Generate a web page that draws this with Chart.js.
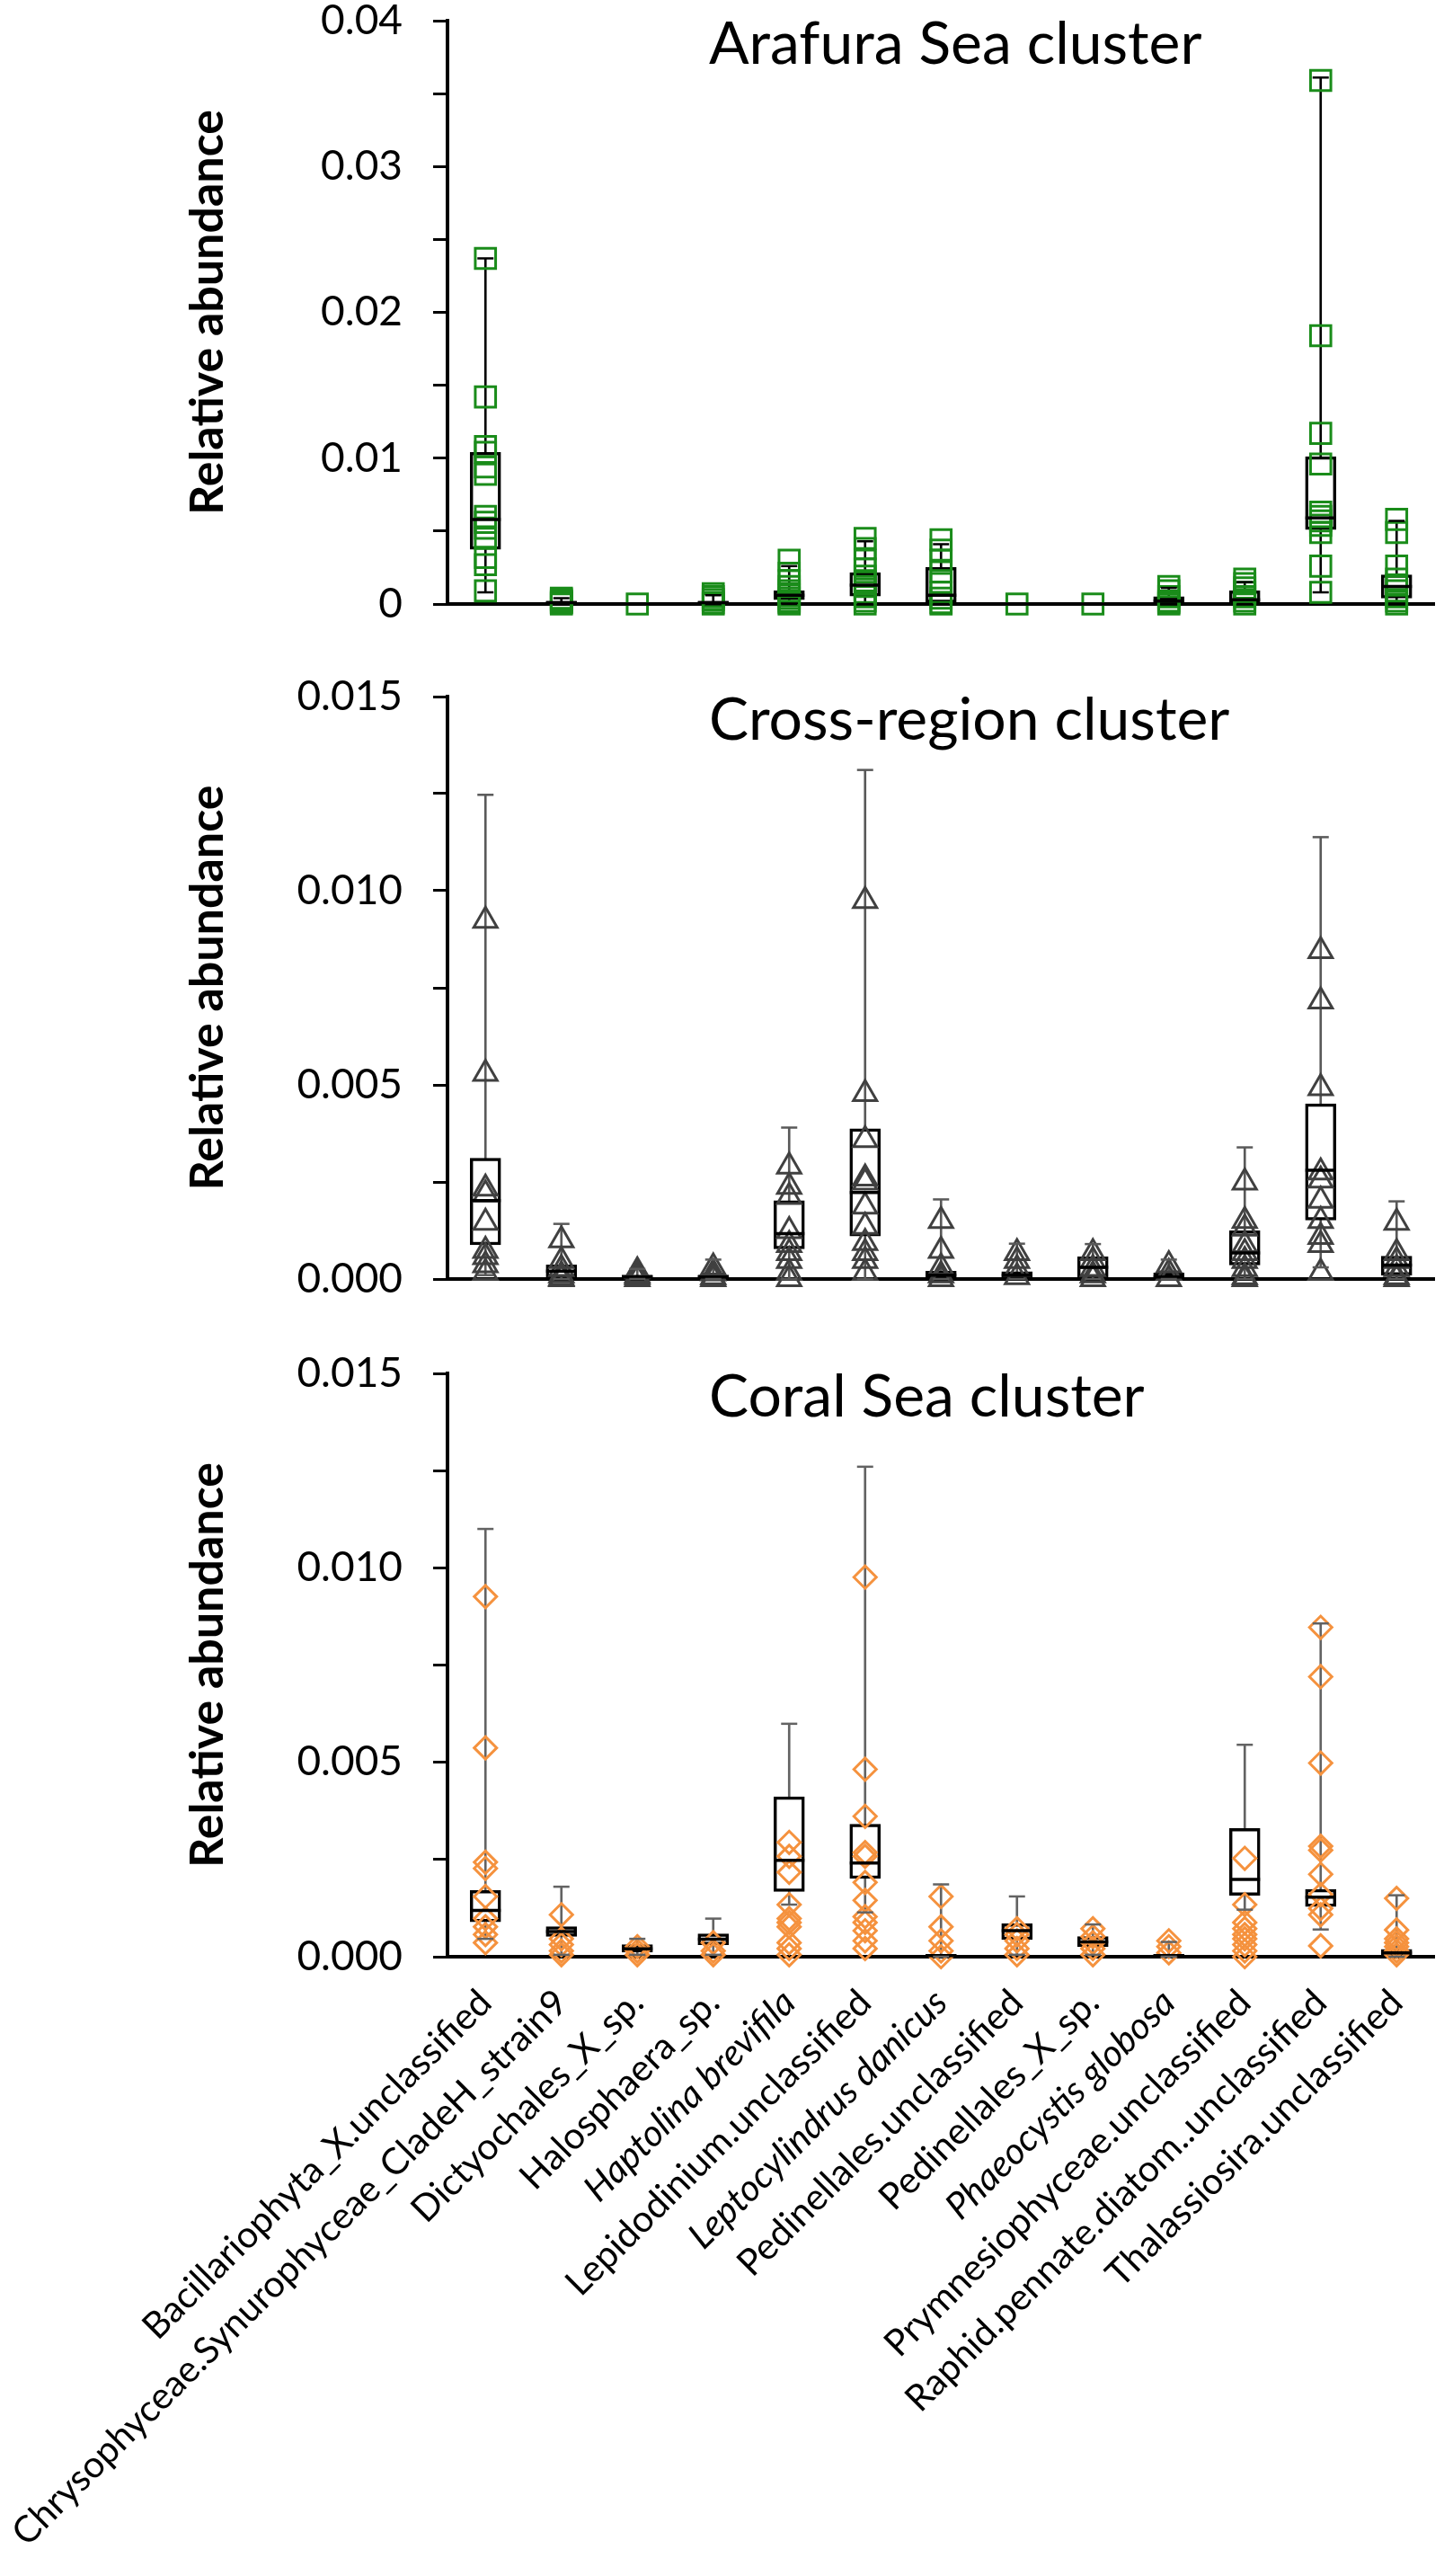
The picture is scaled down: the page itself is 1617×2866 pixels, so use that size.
<!DOCTYPE html>
<html>
<head>
<meta charset="utf-8">
<script src="https://cdn.jsdelivr.net/npm/chart.js@4.4.1/dist/chart.umd.min.js"></script>
<style>
html, body { margin: 0; padding: 0; background: #fff; }
body { width: 1617px; height: 2866px; position: relative; overflow: hidden; }
.panel { position: absolute; left: 0; width: 1617px; }
</style>
</head>
<body>
<div class="panel" style="top:0;height:720px"><canvas id="arafura"></canvas></div>
<div class="panel" style="top:750px;height:720px"><canvas id="crossRegion"></canvas></div>
<div class="panel" style="top:1500px;height:1366px"><canvas id="coralSea"></canvas></div>
<script>
const categories = ['Bacillariophyta_X.unclassified', 'Chrysophyceae.Synurophyceae_CladeH_strain9',
    'Dictyochales_X_sp.', 'Halosphaera_sp.', 'Haptolina brevifila', 'Lepidodinium.unclassified',
    'Leptocylindrus danicus', 'Pedinellales.unclassified', 'Pedinellales_X_sp.', 'Phaeocystis globosa',
    'Prymnesiophyceae.unclassified', 'Raphid.pennate.diatom..unclassified', 'Thalassiosira.unclassified'];
const italicTaxa = ['Haptolina brevifila', 'Leptocylindrus danicus', 'Phaeocystis globosa'];

// Arafura Sea cluster
const arafuraMin = [0.0008, 0, 0, 0, 0, 0, 0, 0, 0, 0, 0, 0.0008, 0];
const arafuraQ1 = [0.00375, 0, 0, 0, 0.0003, 0.00055, 0.0001, 0, 0, 0, 0, 0.0051, 0.0004];
const arafuraMedian = [0.0058, 0.0001, 0, 0.0001, 0.0006, 0.0013, 0.0006, 0, 0, 0.0002, 0.0003, 0.0059, 0.0012];
const arafuraQ3 = [0.0104, 0.0002, 0, 0.0002, 0.0009, 0.00215, 0.0025, 0, 0, 0.0005, 0.0009, 0.0101, 0.002];
const arafuraMax = [0.0237, 0.0004, 0, 0.0006, 0.0026, 0.0043, 0.0041, 0, 0, 0.0011, 0.0015, 0.0361, 0.0057];
const arafuraPoints = [
    [0.0237, 0.0142, 0.0108, 0.0104, 0.0094, 0.0089, 0.0060, 0.0056, 0.0052, 0.0045, 0.0032, 0.0027, 0.0009],
    [0.0004, 0.0003, 0.0002, 0.0001, 0.0001, 0],
    [0],
    [0.0007, 0.0005, 0.0003, 0.0001, 0],
    [0.0030, 0.0021, 0.0016, 0.0012, 0.0009, 0.0006, 0.0004, 0.0002, 0.0001, 0],
    [0.0045, 0.0038, 0.0030, 0.0024, 0.0019, 0.0015, 0.0012, 0.0008, 0.0005, 0.0002, 0],
    [0.0044, 0.0037, 0.0030, 0.0022, 0.0014, 0.0008, 0.0004, 0.0001, 0],
    [0],
    [0],
    [0.0012, 0.0009, 0.0005, 0.0002, 0.0001, 0],
    [0.0017, 0.0014, 0.0011, 0.0008, 0.0005, 0.0002, 0],
    [0.0359, 0.0184, 0.0117, 0.0096, 0.0063, 0.0060, 0.0057, 0.0054, 0.0049, 0.0026, 0.0008],
    [0.0058, 0.0049, 0.0026, 0.0017, 0.0013, 0.0009, 0.0005, 0.0002, 0]
];

// Cross-region cluster
const crossMin = [0.0001, 0, 0, 0, 0, 0, 0, 0, 0, 0, 0, 0.0003, 0];
const crossQ1 = [0.00088, 0.00005, 0, 0, 0.00078, 0.00111, 0, 0, 0.00005, 0, 0.00036, 0.00152, 0.0001];
const crossMedian = [0.00202, 0.0002, 0.00005, 0.00005, 0.00117, 0.00223, 0.0001, 0.0001, 0.0003, 0.00005, 0.00067, 0.0028, 0.00036];
const crossQ3 = [0.00311, 0.00036, 0.0001, 0.0001, 0.00202, 0.00387, 0.0002, 0.00019, 0.00057, 0.00016, 0.00124, 0.00451, 0.00059];
const crossMax = [0.01247, 0.00142, 0.00026, 0.0005, 0.0039, 0.01311, 0.00205, 0.00091, 0.0009, 0.0005, 0.00339, 0.01138, 0.002];
const crossPoints = [
    [0.00923, 0.00529, 0.00233, 0.00218, 0.00145, 0.00073, 0.00057, 0.00036, 0.00016],
    [0.001, 0.00047, 0.00026, 0.0001, 0.00003, 0],
    [0.0002, 0.0001, 0.00005, 0],
    [0.0003, 0.00015, 0.00005, 0],
    [0.0029, 0.00238, 0.00212, 0.00124, 0.00088, 0.00067, 0.00047, 0.00016, 0],
    [0.00974, 0.00477, 0.00358, 0.00259, 0.00249, 0.00187, 0.00135, 0.00093, 0.00067, 0.00047, 0.00016],
    [0.0015, 0.00073, 0.0003, 0.0001, 0],
    [0.00067, 0.00047, 0.00026, 0.00005],
    [0.00067, 0.00047, 0.00026, 0.0001, 0],
    [0.00036, 0.00016, 0],
    [0.00249, 0.0015, 0.0013, 0.00088, 0.00067, 0.00047, 0.00026, 0.00005, 0],
    [0.00845, 0.00715, 0.00492, 0.00275, 0.00254, 0.00202, 0.0015, 0.00109, 0.00088, 0.00016],
    [0.00145, 0.00067, 0.00047, 0.00026, 0.00005, 0]
];

// Coral Sea cluster
const coralMin = [0.00046, 0.00005, 0.00005, 0.00005, 0.00134, 0.00114, 0, 0.00005, 0.00005, 0, 0.00121, 0.0007, 0];
const coralQ1 = [0.0009, 0.00052, 0.00012, 0.00031, 0.00168, 0.00201, 0, 0.00044, 0.00026, 0, 0.00158, 0.00129, 0.00005];
const coralMedian = [0.00119, 0.00065, 0.0002, 0.00045, 0.00248, 0.00241, 0.00003, 0.00067, 0.00038, 0.00003, 0.00199, 0.00153, 0.0001];
const coralQ3 = [0.0017, 0.00077, 0.00031, 0.00059, 0.00411, 0.00341, 0.00006, 0.00085, 0.00052, 0.00006, 0.0033, 0.00173, 0.00019];
const coralMax = [0.011, 0.0018, 0.00046, 0.00098, 0.00599, 0.0126, 0.00186, 0.00155, 0.00083, 0.00038, 0.00545, 0.00857, 0.00158];
const coralPoints = [
    [0.00926, 0.00537, 0.00243, 0.00227, 0.00155, 0.00098, 0.00077, 0.00057, 0.00036],
    [0.00108, 0.00046, 0.00031, 0.00015, 0.00005],
    [0.00026, 0.00015, 0.00005],
    [0.00036, 0.00015, 0.00005],
    [0.00294, 0.00258, 0.00217, 0.00134, 0.00098, 0.00088, 0.00077, 0.00036, 0.00021, 0.00005],
    [0.00976, 0.00482, 0.00361, 0.00268, 0.00258, 0.00191, 0.00145, 0.00103, 0.00088, 0.00067, 0.00041, 0.00021],
    [0.00155, 0.00077, 0.00041, 0.00015, 0],
    [0.00072, 0.00057, 0.00041, 0.00021, 0.00005],
    [0.00072, 0.00052, 0.00036, 0.00021, 0.00005],
    [0.00041, 0.00026, 0.0001],
    [0.00253, 0.00134, 0.00088, 0.00072, 0.00057, 0.00046, 0.00031, 0.00015, 0],
    [0.00847, 0.0072, 0.00498, 0.00284, 0.00274, 0.00212, 0.0016, 0.00124, 0.00108, 0.00028],
    [0.0015, 0.00069, 0.00046, 0.00036, 0.00026, 0.00015, 0.00005]
];

Chart.defaults.color = '#000';
Chart.defaults.font.family = 'Lato';

// cluster name written inside the plot area, top
const panelTitle = {
    id: 'panelTitle',
    afterDraw(chart, args, opts) {
        const ctx = chart.ctx;
        ctx.save();
        ctx.font = '66px Lato';
        ctx.fillStyle = '#000';
        ctx.textBaseline = 'alphabetic';
        ctx.fillText(opts.text, chart.chartArea.left + 291, chart.chartArea.top + 48);
        ctx.restore();
    }
};

function makeChart(id, p) {
    const pointData = [];
    p.points.forEach((vals, i) => vals.forEach(v => pointData.push({x: categories[i], y: v})));
    const capData = [];
    categories.forEach((c, i) => {
        capData.push({x: c, y: p.min[i]});
        capData.push({x: c, y: p.max[i]});
    });
    const isMajor = v => Math.abs(v / p.majorStep - Math.round(v / p.majorStep)) < 1e-6;

    return new Chart(document.getElementById(id), {
        type: 'bar',
        plugins: [panelTitle],
        data: {
            labels: categories,
            datasets: [
                {
                    type: 'line', showLine: false, data: capData, order: 0, clip: false,
                    pointStyle: 'line', pointRadius: 9, pointBorderColor: p.whiskerColor, pointBorderWidth: 2.5
                },
                {
                    type: 'line', showLine: false, order: 0, clip: false,
                    data: categories.map((c, i) => ({x: c, y: p.median[i]})),
                    pointStyle: 'line', pointRadius: 17, pointBorderColor: '#000', pointBorderWidth: 3.5
                },
                {
                    type: 'line', showLine: false, data: pointData, order: 1, clip: false,
                    pointStyle: p.marker, pointRadius: p.markerRadius, pointBorderColor: p.color,
                    pointBackgroundColor: 'rgba(0,0,0,0)', pointBorderWidth: 3
                },
                {
                    data: categories.map((c, i) => [p.q1[i], p.q3[i]]), order: 2,
                    backgroundColor: '#fff', borderColor: '#000', borderWidth: 3.5, borderSkipped: false,
                    barThickness: 34, grouped: false
                },
                {
                    data: categories.map((c, i) => [p.min[i], p.max[i]]), order: 3,
                    backgroundColor: p.whiskerColor, borderWidth: 0, barThickness: 2, grouped: false
                }
            ]
        },
        options: {
            responsive: true,
            maintainAspectRatio: false,
            animation: false,
            events: [],
            layout: {
                padding: {left: 200, right: 5, top: p.padTop, bottom: p.padBottom}
            },
            scales: {
                x: {
                    offset: true,
                    grid: {display: false, drawTicks: false},
                    border: {color: '#000', width: 4},
                    ticks: {
                        display: p.showLabels,
                        autoSkip: false,
                        minRotation: 45,
                        maxRotation: 45,
                        padding: 27,
                        font: c => ({
                            family: 'Lato', size: 41,
                            style: italicTaxa.includes(categories[c.index]) ? 'italic' : 'normal'
                        })
                    },
                    afterFit: s => { s.height = p.xHeight; s.paddingLeft = 0; s.paddingRight = 0; }
                },
                y: {
                    min: 0,
                    max: p.yMax,
                    ticks: {
                        stepSize: p.minorStep,
                        autoSkip: false,
                        padding: 34,
                        font: {family: 'Lato', size: 46},
                        callback: v => isMajor(v) ? p.format(v) : ''
                    },
                    grid: {drawOnChartArea: false, tickLength: 16, tickWidth: 3, tickColor: '#000'},
                    border: {color: '#000', width: 4},
                    title: {
                        display: true,
                        text: 'Relative abundance',
                        padding: 0,
                        font: {family: 'Lato', size: 52, weight: 'bold'}
                    },
                    afterFit: s => { s.width = 298; s.paddingTop = 0; s.paddingBottom = 0; }
                }
            },
            plugins: {
                legend: {display: false},
                tooltip: {enabled: false},
                panelTitle: {text: p.title}
            }
        }
    });
}

function draw() {
    makeChart('arafura', {
        title: 'Arafura Sea cluster',
        min: arafuraMin, q1: arafuraQ1, median: arafuraMedian, q3: arafuraQ3, max: arafuraMax,
        points: arafuraPoints,
        marker: 'rect', markerRadius: 16, color: '#1a8c1a', whiskerColor: '#000',
        yMax: 0.04, majorStep: 0.01, minorStep: 0.005,
        format: v => v === 0 ? '0' : v.toFixed(2),
        showLabels: false, xHeight: 20, padTop: 23, padBottom: 28
    });
    makeChart('crossRegion', {
        title: 'Cross-region cluster',
        min: crossMin, q1: crossQ1, median: crossMedian, q3: crossQ3, max: crossMax,
        points: crossPoints,
        marker: 'triangle', markerRadius: 15, color: '#404040', whiskerColor: '#595959',
        yMax: 0.015, majorStep: 0.005, minorStep: 0.0025,
        format: v => v.toFixed(3),
        showLabels: false, xHeight: 20, padTop: 25, padBottom: 27
    });
    makeChart('coralSea', {
        title: 'Coral Sea cluster',
        min: coralMin, q1: coralQ1, median: coralMedian, q3: coralQ3, max: coralMax,
        points: coralPoints,
        marker: 'rectRot', markerRadius: 12.5, color: '#f5923e', whiskerColor: '#636363',
        yMax: 0.015, majorStep: 0.005, minorStep: 0.0025,
        format: v => v.toFixed(3),
        showLabels: true, xHeight: 689, padTop: 28, padBottom: 0
    });
}

Promise.all([
    document.fonts.load('46px Lato'),
    document.fonts.load('bold 52px Lato'),
    document.fonts.load('italic 41px Lato')
]).then(draw, draw);
</script>
</body>
</html>
